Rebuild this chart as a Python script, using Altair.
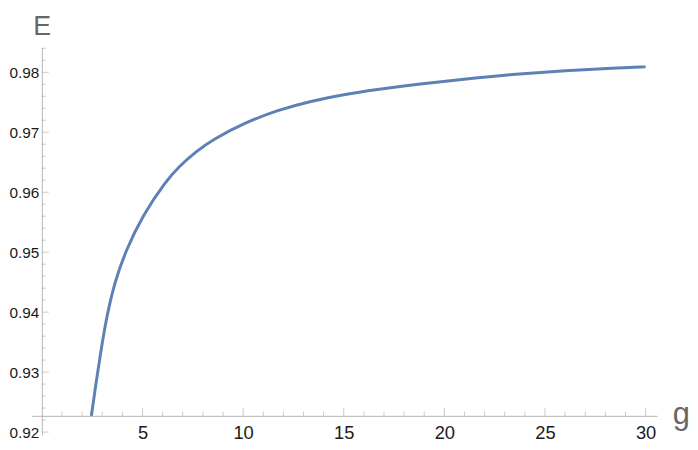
import altair as alt
import pandas as pd

# Curve values
g_values = [2.46, 2.70, 2.95, 3.23, 3.61, 4.15, 5.00, 6.18, 6.81, 7.71, 8.45,
            10.09, 11.73, 13.37, 15.02, 16.60, 18.63, 21.09, 23.56, 26.02, 28.48, 30.0]
e_values = [0.9227, 0.9284, 0.9339, 0.9394, 0.9449, 0.9501, 0.9561, 0.9619, 0.9643,
            0.9669, 0.9687, 0.9716, 0.9737, 0.9752, 0.9763, 0.9771, 0.9780, 0.9789,
            0.9797, 0.9803, 0.9807, 0.9809]

# Tick positions
x_major = [5, 10, 15, 20, 25, 30]
x_minor = [1, 2, 3, 4, 6, 7, 8, 9, 11, 12, 13, 14, 16, 17, 18, 19,
           21, 22, 23, 24, 26, 27, 28, 29]
y_major = [0.92, 0.93, 0.94, 0.95, 0.96, 0.97, 0.98]
y_minor = [0.922, 0.924, 0.926, 0.928, 0.932, 0.934, 0.936, 0.938,
           0.942, 0.944, 0.946, 0.948, 0.952, 0.954, 0.956, 0.958,
           0.962, 0.964, 0.966, 0.968, 0.972, 0.974, 0.976, 0.978,
           0.982, 0.984]

x_axis_at = 0.9227   # E value where the g axis crosses
y_axis_at = 0.0      # g value where the E axis sits

X_DOMAIN = [-0.50, 30.58]
Y_DOMAIN = [0.91949, 0.98412]

AXIS_GRAY = "#b3b3b3"
LINE_COLOR = "#5e81b5"
FONT = "Liberation Sans"

curve = pd.DataFrame({"g": g_values, "E": e_values})

xs = alt.Scale(domain=X_DOMAIN, nice=False, zero=False)
ys = alt.Scale(domain=Y_DOMAIN, nice=False, zero=False)

x_axis = alt.Axis(
    values=x_major, ticks=False, tickSize=0, grid=False,
    domainColor=AXIS_GRAY, domainWidth=1, offset=-19.5,
    labelFont=FONT, labelFontSize=18.5, labelColor="#1a1a1a", labelPadding=8,
    labelFlush=False, labelOverlap=False,
    title="g", titleFont=FONT, titleFontSize=31, titleFontWeight="normal",
    titleColor="#666666", titleAngle=0, titleAlign="left",
    titleBaseline="alphabetic", titleX=646, titleY=7.5,
)
y_axis = alt.Axis(
    values=y_major, format=".2f", ticks=False, tickSize=0, grid=False,
    domainColor=AXIS_GRAY, domainWidth=1, offset=-10.15,
    labelFont=FONT, labelFontSize=15.5, labelColor="#1a1a1a", labelPadding=3,
    labelFlush=False, labelOverlap=False,
    title="E", titleFont=FONT, titleFontSize=27, titleFontWeight="normal",
    titleColor="#666666", titleAngle=0, titleAlign="left",
    titleBaseline="alphabetic", titleX=-9.2, titleY=-13,
)

line = alt.Chart(curve).mark_line(
    color=LINE_COLOR, strokeWidth=3, interpolate="basis"
).encode(
    x=alt.X("g:Q", scale=xs, axis=x_axis),
    y=alt.Y("E:Q", scale=ys, axis=y_axis),
)

def xticks(vals, size):
    return alt.Chart(pd.DataFrame({"t": vals})).mark_tick(
        orient="vertical", size=size, thickness=1, color=AXIS_GRAY
    ).encode(
        x=alt.X("t:Q", scale=xs, axis=x_axis),
        y=alt.datum(x_axis_at, type="quantitative", scale=ys, axis=y_axis),
        yOffset=alt.value(-size / 2),
    )

def yticks(vals, size):
    return alt.Chart(pd.DataFrame({"t": vals})).mark_tick(
        orient="horizontal", size=size, thickness=1, color=AXIS_GRAY
    ).encode(
        y=alt.Y("t:Q", scale=ys, axis=y_axis),
        x=alt.datum(y_axis_at, type="quantitative", scale=xs, axis=x_axis),
        xOffset=alt.value(size / 2),
    )

chart = alt.layer(
    xticks(x_major, 8), xticks(x_minor, 4.5),
    yticks(y_major, 7), yticks(y_minor, 4),
    line,
).properties(
    width=631, height=391,
    padding={"left": 24, "top": 38, "right": 33, "bottom": 6},
    autosize=alt.AutoSizeParams(type="none"),
    background="white",
).configure_view(stroke=None)

chart.save("out.html", embed_options={"renderer": "svg", "actions": False})
